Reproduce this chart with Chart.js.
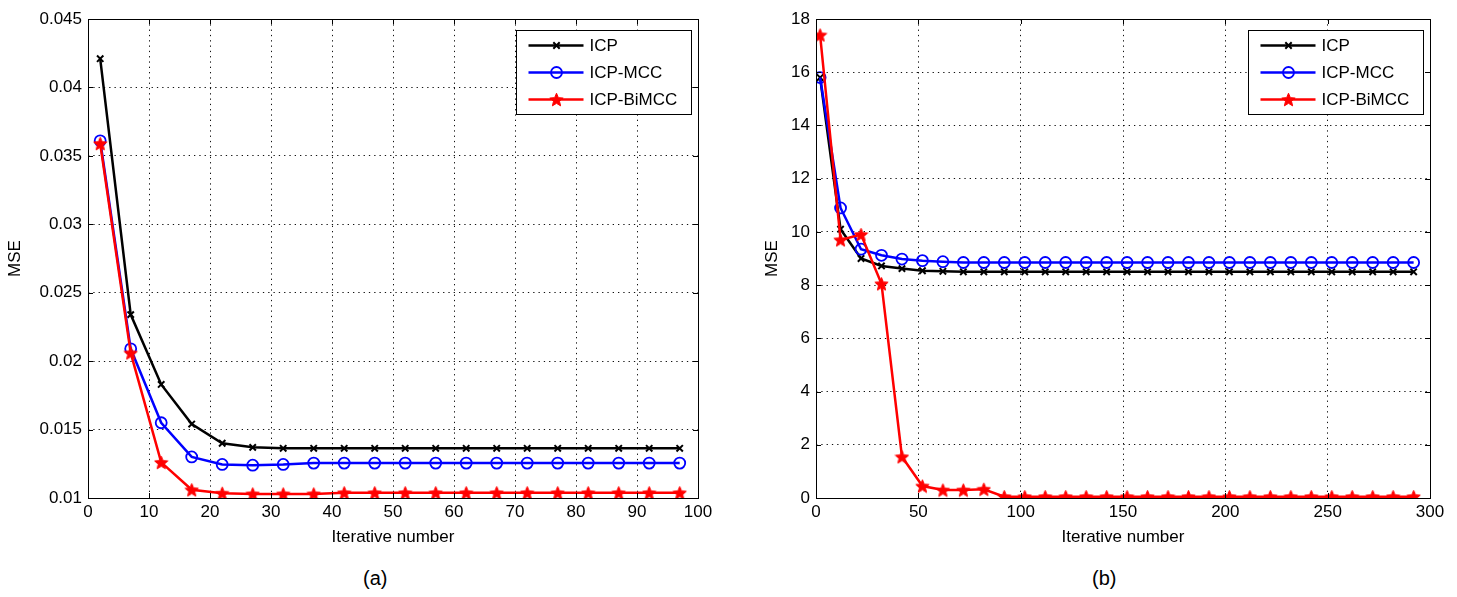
<!DOCTYPE html>
<html>
<head>
<meta charset="utf-8">
<script src="https://cdn.jsdelivr.net/npm/chart.js@4.4.0/dist/chart.umd.min.js"></script>
<style>
html, body { margin: 0; padding: 0; background: #fff; width: 1457px; height: 597px; overflow: hidden; }
#wa { position: absolute; left: 0; top: 0; width: 720px; height: 560px; }
#wb { position: absolute; left: 730px; top: 0; width: 727px; height: 560px; }
.cap { position: absolute; top: 566px; font-family: "Liberation Sans", Arial, sans-serif; font-size: 20px; color: #000; line-height: 24px; }
</style>
</head>
<body>
<div id="wa"><canvas id="ca" width="720" height="560"></canvas></div>
<div id="wb"><canvas id="cb" width="727" height="560"></canvas></div>
<div class="cap" style="left:363px;">(a)</div>
<div class="cap" style="left:1092px;">(b)</div>
<script>
// ---------- data ----------
const seriesNames = ['ICP', 'ICP-MCC', 'ICP-BiMCC'];

// chart (a)
const xA = [2, 7, 12, 17, 22, 27, 32, 37, 42, 47, 52, 57, 62, 67, 72, 77, 82, 87, 92, 97];
const icpA = [0.0421, 0.0234, 0.0183, 0.0154, 0.0140, 0.0137, 0.01363, 0.01363, 0.01363, 0.01363,
              0.01363, 0.01363, 0.01363, 0.01363, 0.01363, 0.01363, 0.01363, 0.01363, 0.01363, 0.01363];
const mccA = [0.0361, 0.0209, 0.0155, 0.0130, 0.01245, 0.0124, 0.01245, 0.01255, 0.01255, 0.01255,
              0.01255, 0.01255, 0.01255, 0.01255, 0.01255, 0.01255, 0.01255, 0.01255, 0.01255, 0.01255];
const bimccA = [0.0359, 0.0206, 0.0126, 0.0106, 0.01035, 0.0103, 0.0103, 0.0103, 0.01038, 0.01038,
                0.01038, 0.01038, 0.01038, 0.01038, 0.01038, 0.01038, 0.01038, 0.01038, 0.01038, 0.01038];
const xTicksA = [0, 10, 20, 30, 40, 50, 60, 70, 80, 90, 100];
const yTicksA = [0.01, 0.015, 0.02, 0.025, 0.03, 0.035, 0.04, 0.045];

// chart (b)
const xB = [2, 12, 22, 32, 42, 52, 62, 72, 82, 92, 102, 112, 122, 132, 142,
            152, 162, 172, 182, 192, 202, 212, 222, 232, 242, 252, 262, 272, 282, 292];
const icpB = [15.8, 10.1, 9.0, 8.72, 8.62, 8.54, 8.52, 8.5, 8.5, 8.5, 8.5, 8.5, 8.5, 8.5, 8.5,
              8.5, 8.5, 8.5, 8.5, 8.5, 8.5, 8.5, 8.5, 8.5, 8.5, 8.5, 8.5, 8.5, 8.5, 8.5];
const mccB = [15.8, 10.9, 9.35, 9.12, 8.98, 8.92, 8.88, 8.85, 8.85, 8.85, 8.85, 8.85, 8.85, 8.85, 8.85,
              8.85, 8.85, 8.85, 8.85, 8.85, 8.85, 8.85, 8.85, 8.85, 8.85, 8.85, 8.85, 8.85, 8.85, 8.85];
const bimccB = [17.4, 9.7, 9.9, 8.05, 1.55, 0.45, 0.3, 0.3, 0.33, 0.05, 0.05, 0.05, 0.05, 0.05, 0.05,
                0.05, 0.05, 0.05, 0.05, 0.05, 0.05, 0.05, 0.05, 0.05, 0.05, 0.05, 0.05, 0.05, 0.05, 0.05];
const xTicksB = [0, 50, 100, 150, 200, 250, 300];
const yTicksB = [0, 2, 4, 6, 8, 10, 12, 14, 16, 18];

const xTitle = 'Iterative number';
const yTitle = 'MSE';

// ---------- styles ----------
const FONT = '"Liberation Sans", Arial, sans-serif';
const COLORS = ['#000000', '#0000ff', '#ff0000'];

function makePentagram(color, size) {
  const c = document.createElement('canvas');
  c.width = size; c.height = size;
  const g = c.getContext('2d');
  const R = size / 2 - 0.5, r = R * 0.45, cx = size / 2, cy = size / 2 + 0.7;
  g.beginPath();
  for (let i = 0; i < 10; i++) {
    const rad = (i % 2 === 0) ? R : r;
    const a = -Math.PI / 2 + i * Math.PI / 5;
    const px = cx + rad * Math.cos(a), py = cy + rad * Math.sin(a);
    if (i === 0) g.moveTo(px, py); else g.lineTo(px, py);
  }
  g.closePath();
  g.fillStyle = color; g.fill();
  g.strokeStyle = color; g.lineWidth = 1; g.stroke();
  return c;
}
const starImg = makePentagram('#ff0000', 15);

function markerStyle(i) {
  if (i === 0) return { pointStyle: 'crossRot', pointRadius: 4.5, pointBorderWidth: 2, pointBackgroundColor: COLORS[0] };
  if (i === 1) return { pointStyle: 'circle', pointRadius: 5.5, pointBorderWidth: 1.8, pointBackgroundColor: 'rgba(0,0,0,0)' };
  return { pointStyle: starImg, pointRadius: 7, pointBorderWidth: 1, pointBackgroundColor: COLORS[2] };
}

function drawMarker(ctx, i, x, y) {
  ctx.save();
  ctx.strokeStyle = COLORS[i];
  if (i === 0) {
    ctx.lineWidth = 2;
    const d = 4.5 * Math.SQRT1_2;
    ctx.beginPath();
    ctx.moveTo(x - d, y - d); ctx.lineTo(x + d, y + d);
    ctx.moveTo(x - d, y + d); ctx.lineTo(x + d, y - d);
    ctx.stroke();
  } else if (i === 1) {
    ctx.lineWidth = 1.8;
    ctx.beginPath(); ctx.arc(x, y, 5.5, 0, Math.PI * 2); ctx.stroke();
  } else {
    ctx.drawImage(starImg, x - starImg.width / 2, y - starImg.height / 2);
  }
  ctx.restore();
}

// frame, inward ticks and legend (MATLAB style)
const matlabPlugin = {
  id: 'matlabFrame',
  afterDatasetsDraw(chart) {
    const { ctx, chartArea: a, scales } = chart;
    ctx.save();
    ctx.strokeStyle = '#000'; ctx.lineWidth = 1;
    ctx.strokeRect(Math.round(a.left) + 0.5, Math.round(a.top) + 0.5,
                   Math.round(a.right - a.left), Math.round(a.bottom - a.top));
    const tl = 5;
    ctx.beginPath();
    scales.x.ticks.forEach(t => {
      const px = Math.round(scales.x.getPixelForValue(t.value)) + 0.5;
      ctx.moveTo(px, a.bottom); ctx.lineTo(px, a.bottom - tl);
      ctx.moveTo(px, a.top); ctx.lineTo(px, a.top + tl);
    });
    scales.y.ticks.forEach(t => {
      const py = Math.round(scales.y.getPixelForValue(t.value)) + 0.5;
      ctx.moveTo(a.left, py); ctx.lineTo(a.left + tl, py);
      ctx.moveTo(a.right, py); ctx.lineTo(a.right - tl, py);
    });
    ctx.stroke();

    // legend
    const lw = 175, lh = 84;
    const bx = Math.round(a.right - 7 - lw) + 0.5, by = Math.round(a.top + 11) + 0.5;
    ctx.fillStyle = '#fff';
    ctx.fillRect(bx, by, lw, lh);
    ctx.lineWidth = 1;
    ctx.strokeStyle = '#000';
    ctx.strokeRect(bx, by, lw, lh);
    ctx.font = '17px ' + FONT;
    ctx.textBaseline = 'middle';
    ctx.textAlign = 'left';
    chart.data.datasets.forEach((ds, i) => {
      const ry = by + 15 + i * 27;
      ctx.strokeStyle = COLORS[i];
      ctx.lineWidth = 2.5;
      ctx.beginPath(); ctx.moveTo(bx + 12, ry); ctx.lineTo(bx + 67, ry); ctx.stroke();
      drawMarker(ctx, i, bx + 40, ry);
      ctx.fillStyle = '#000';
      ctx.fillText(ds.label, bx + 73, ry + 1);
    });
    ctx.restore();
  }
};

function buildChart(canvasId, xs, series, xTicks, yTicks, geo) {
  const datasets = series.map((vals, i) => Object.assign({
    label: seriesNames[i],
    data: xs.map((x, k) => ({ x: x, y: vals[k] })),
    borderColor: COLORS[i],
    pointBorderColor: COLORS[i],
    borderWidth: 2.5,
    tension: 0,
    fill: false,
    order: 3 - i
  }, markerStyle(i)));

  return new Chart(document.getElementById(canvasId), {
    type: 'line',
    data: { datasets },
    options: {
      responsive: false,
      animation: false,
      devicePixelRatio: 1,
      layout: { padding: { top: geo.top, right: geo.right, left: 0, bottom: 0 } },
      plugins: { legend: { display: false }, tooltip: { enabled: false } },
      scales: {
        x: {
          type: 'linear',
          min: xTicks[0], max: xTicks[xTicks.length - 1],
          afterBuildTicks: s => { s.ticks = xTicks.map(v => ({ value: v })); },
          afterFit: s => { s.height = geo.xAxisH; },
          ticks: { color: '#000', font: { family: FONT, size: 17 }, padding: 4, maxRotation: 0, autoSkip: false,
                   callback: v => String(v) },
          grid: { color: '#111', lineWidth: 1, drawTicks: false },
          border: { display: false, dash: [1.3, 4] },
          title: { display: true, text: xTitle, color: '#000', font: { family: FONT, size: 17 },
                   padding: { top: 0, bottom: geo.xTitlePad } }
        },
        y: {
          type: 'linear',
          min: yTicks[0], max: yTicks[yTicks.length - 1],
          afterBuildTicks: s => { s.ticks = yTicks.map(v => ({ value: v })); },
          afterFit: s => { s.width = geo.yAxisW; },
          ticks: { color: '#000', font: { family: FONT, size: 17 }, padding: 6, autoSkip: false,
                   callback: v => String(v) },
          grid: { color: '#111', lineWidth: 1, drawTicks: false },
          border: { display: false, dash: [1.3, 4] },
          title: { display: true, text: yTitle, color: '#000', font: { family: FONT, size: 17 },
                   padding: { top: geo.yTitlePad, bottom: 0 } }
        }
      }
    },
    plugins: [matlabPlugin]
  });
}

buildChart('ca', xA, [icpA, mccA, bimccA], xTicksA, yTicksA,
  { top: 19, right: 22, xAxisH: 62, yAxisW: 88, xTitlePad: 12, yTitlePad: 5 });
buildChart('cb', xB, [icpB, mccB, bimccB], xTicksB, yTicksB,
  { top: 19, right: 27, xAxisH: 62, yAxisW: 86, xTitlePad: 12, yTitlePad: 32 });
</script>
</body>
</html>
